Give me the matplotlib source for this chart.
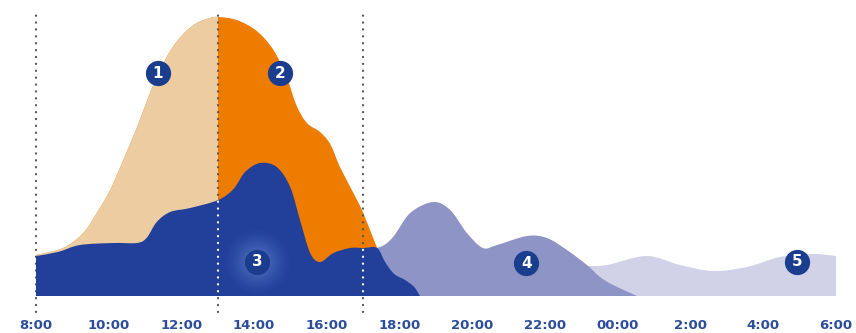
import numpy as np
import matplotlib
matplotlib.use("Agg")
import matplotlib.pyplot as plt
from matplotlib.path import Path
from matplotlib.patches import PathPatch, Rectangle

#=========================================================
#                  data (hours after 8:00, height)
#=========================================================
# layer 1/2 : one big curve, tan before 13:00 and orange after
h_main = [0.0, 0.75, 1.30, 1.67, 2.04, 2.40, 2.77, 3.04, 3.32, 3.69, 4.05,
          4.42, 4.79, 5.01, 5.52, 6.07, 6.53, 6.89, 7.17, 7.45, 7.81,
          8.09, 8.36, 8.73, 9.0, 9.37, 9.7, 10.0]
v_main = [41, 48, 63, 83, 106, 136, 168, 194, 219, 245, 262,
          273, 278, 279, 276, 265, 246, 219, 190, 173, 164,
          152, 129, 103, 83, 49, 22, 0]

# layer 3 : dark blue
h_l3 = [0.0, 0.6, 1.21, 2.13, 2.77, 3.04, 3.32, 3.69, 4.24, 5.01, 5.43,
        5.75, 6.16, 6.62, 6.99, 7.26, 7.54, 7.81, 8.18, 8.64, 9.0, 9.38,
        9.6, 9.85, 10.15, 10.4, 10.56]
v_l3 = [40, 44, 51, 53, 53, 58, 74, 84, 88, 96, 107,
        124, 133, 129, 109, 76, 43, 34, 43, 48, 48, 48,
        34, 22, 16, 9, 0]

# layer 4 : medium blue
h_l4 = [9.0, 9.46, 9.82, 10.29, 10.92, 11.39, 11.85, 12.29, 12.68, 13.50,
        14.05, 14.60, 15.15, 15.51, 15.87, 16.53]
v_l4 = [48, 49, 59, 83, 94, 86, 63, 48, 51, 60,
        58, 46, 31, 19, 11, 0]

# layer 5 : light lavender
h_l5 = [14.4, 15.15, 15.70, 16.80, 17.71, 18.62, 19.55, 20.46, 21.37, 22.0]
v_l5 = [30, 30, 31, 40, 31, 25, 29, 39, 42, 40]

tick_pos = [0, 2, 4, 6, 8, 10, 12, 14, 16, 18, 20, 22]
tick_lab = ['8:00', '10:00', '12:00', '14:00', '16:00', '18:00', '20:00',
            '22:00', '00:00', '2:00', '4:00', '6:00']

split_h = 5.0                 # 13:00
dot_lines = [0.0, 5.0, 9.0]   # 8:00, 13:00, 17:00

badge_h = [3.35, 6.71, 6.08, 13.48, 20.93]
badge_v = [223, 223, 34, 33, 34]
badge_t = ['1', '2', '3', '4', '5']

#=========================================================
#                  helpers
#=========================================================
def smooth_path(xs, ys):
    """closed area path, top edge drawn as cubic bezier (catmull-rom)"""
    pts = np.column_stack([xs, ys]).astype(float)
    n = len(pts)
    verts = [(xs[0], 0), (xs[0], ys[0])]
    codes = [Path.MOVETO, Path.LINETO]
    for i in range(n - 1):
        p0 = pts[max(i - 1, 0)]
        p1 = pts[i]
        p2 = pts[i + 1]
        p3 = pts[min(i + 2, n - 1)]
        c1 = p1 + (p2 - p0) / 6.0
        c2 = p2 - (p3 - p1) / 6.0
        verts += [tuple(c1), tuple(c2), tuple(p2)]
        codes += [Path.CURVE4] * 3
    verts += [(xs[-1], 0), (xs[0], 0)]
    codes += [Path.LINETO, Path.CLOSEPOLY]
    return Path(verts, codes)

#=========================================================
#                  plot
#=========================================================
fig = plt.figure(figsize=(8.56, 3.33), dpi=100)
ax = fig.add_axes([0, 37 / 333, 1, 296 / 333])

c_tan = '#EDCCA1'
c_orange = '#EE7C00'
c_dark = '#22409A'
c_mid = '#8E94C5'
c_light = '#D1D2E8'
c_badge = '#1B3D8E'

p5 = PathPatch(smooth_path(h_l5, v_l5), fc=c_light, ec='none', zorder=1)
ax.add_patch(p5)

p_or = PathPatch(smooth_path(h_main, v_main), fc=c_orange, ec='none', zorder=2)
ax.add_patch(p_or)
p_tan = PathPatch(smooth_path(h_main, v_main), fc=c_tan, ec='none', zorder=2.1)
ax.add_patch(p_tan)
clip_rect = Rectangle((-2, -50), split_h + 2, 400, transform=ax.transData)
p_tan.set_clip_path(clip_rect)

p4 = PathPatch(smooth_path(h_l4, v_l4), fc=c_mid, ec='none', zorder=3)
ax.add_patch(p4)

# grey dotted lines (visible above the dark blue and below the baseline)
for xh in dot_lines:
    ax.plot([xh, xh], [-16, 286], color='#555555', lw=1.6,
            ls=(0, (0.1, 3.0)), dash_capstyle='round', zorder=3.5,
            clip_on=False)

p3 = PathPatch(smooth_path(h_l3, v_l3), fc=c_dark, ec='none', zorder=4)
ax.add_patch(p3)

# soft glow round badge 3
g = np.linspace(-1, 1, 121)
gx, gy = np.meshgrid(g, g)
rr = np.sqrt(gx ** 2 + gy ** 2)
glow = np.zeros((121, 121, 4))
glow[..., 0] = 0.45
glow[..., 1] = 0.58
glow[..., 2] = 0.88
glow[..., 3] = np.clip(1 - rr, 0, 1) ** 1.6 * 0.75
cx, cy = badge_h[2], badge_v[2]
im = ax.imshow(glow, extent=[cx - 1.0, cx + 1.0, cy - 36, cy + 36],
               aspect='auto', zorder=4.1, interpolation='bilinear')
im.set_clip_path(p3)

# white dots inside the dark blue
for xh in dot_lines[1:]:
    ln, = ax.plot([xh, xh], [-16, 286], color='white', lw=1.6,
                  ls=(0, (0.1, 3.0)), dash_capstyle='round', zorder=4.5)
    ln.set_clip_path(p3)

# numbered badges
ax.scatter(badge_h, badge_v, s=330, color=c_badge, zorder=6, lw=0)
for bh, bv, bt in zip(badge_h, badge_v, badge_t):
    ax.text(bh, bv, bt, color='white', fontsize=11, fontweight='bold',
            ha='center', va='center', zorder=7)

ax.set_xlim(-0.99, 22.55)
ax.set_ylim(0, 296)
ax.set_xticks(tick_pos)
ax.set_xticklabels(tick_lab)
ax.tick_params(axis='x', length=0, pad=16.5, labelsize=9.5,
               labelcolor='#2C4C9C')
for lab in ax.get_xticklabels():
    lab.set_fontweight('bold')
ax.set_yticks([])
for s in ax.spines.values():
    s.set_visible(False)

fig.savefig('out.png', dpi=100)
